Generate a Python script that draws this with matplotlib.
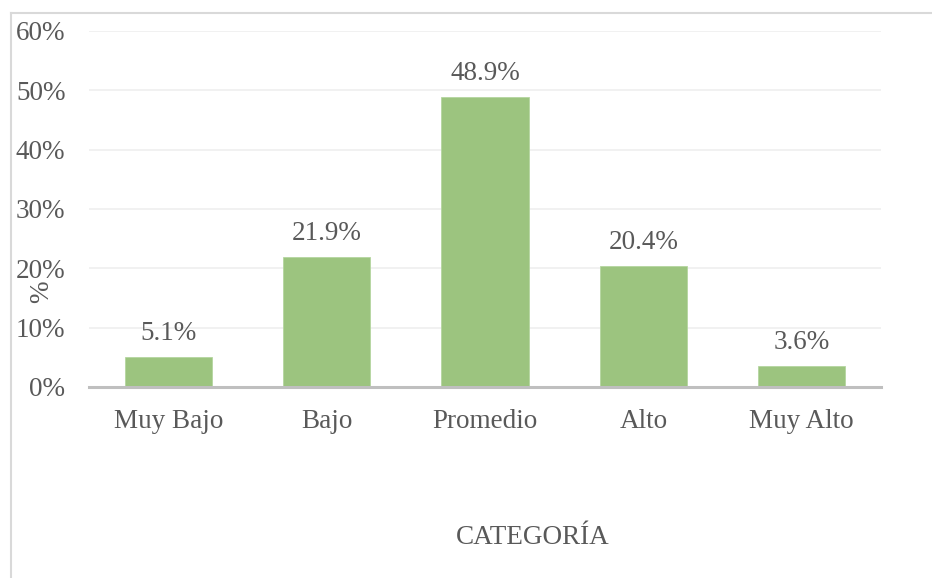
import matplotlib
matplotlib.use("Agg")
import matplotlib.pyplot as plt
from matplotlib.lines import Line2D

categories = ["Muy Bajo", "Bajo", "Promedio", "Alto", "Muy Alto"]
values = [5.1, 21.9, 48.9, 20.4, 3.6]
yticks = [0, 10, 20, 30, 40, 50, 60]

plt.rcParams['font.family'] = ['Liberation Serif', 'DejaVu Serif']
txt = '#595959'
fs = 19.5

fig = plt.figure(figsize=(9.32, 5.78), dpi=100)
ax = fig.add_axes([89/932, 1-387/578, (881-89)/932, (387-31)/578])

x = list(range(len(categories)))
ax.bar(x, values, width=0.55, color='#9cc47f', edgecolor='#b5d6a0', linewidth=0.6, zorder=3)
for xi, v in zip(x, values):
    ax.annotate(f"{v:.1f}%", (xi, v), xytext=(0, 8), textcoords='offset points',
                ha='center', va='bottom', fontsize=fs, color=txt)

ax.set_xlim(-0.5, len(categories) - 0.5)
ax.set_ylim(0, 60)
ax.set_yticks(yticks)
ax.set_yticklabels([f"{t}%" for t in yticks])
ax.set_xticks(x)
ax.set_xticklabels(categories)
ax.tick_params(axis='both', length=0, labelsize=fs, labelcolor=txt)
ax.tick_params(axis='y', pad=17)
ax.tick_params(axis='x', pad=16)
ax.grid(axis='y', color='#efefef', linewidth=1.2, zorder=0)
for s in ['top', 'right', 'left']:
    ax.spines[s].set_visible(False)
ax.spines['bottom'].set_color('#bfbfbf')
ax.spines['bottom'].set_linewidth(2.2)
ax.spines['bottom'].set_zorder(4)

fig.text(42/932, 1-292/578, "%", rotation=90, ha='center', va='center', fontsize=fs, color=txt)
fig.text(533/932, 1-538/578, "CATEGORÍA", ha='center', va='center', fontsize=fs, color=txt)

# outer frame (top and left)
fig.add_artist(Line2D([11/932, 1], [1-13/578, 1-13/578], color='#d9d9d9', linewidth=1.5, transform=fig.transFigure))
fig.add_artist(Line2D([11/932, 11/932], [0, 1-13/578], color='#d9d9d9', linewidth=1.5, transform=fig.transFigure))

fig.savefig("out.png", dpi=100)
